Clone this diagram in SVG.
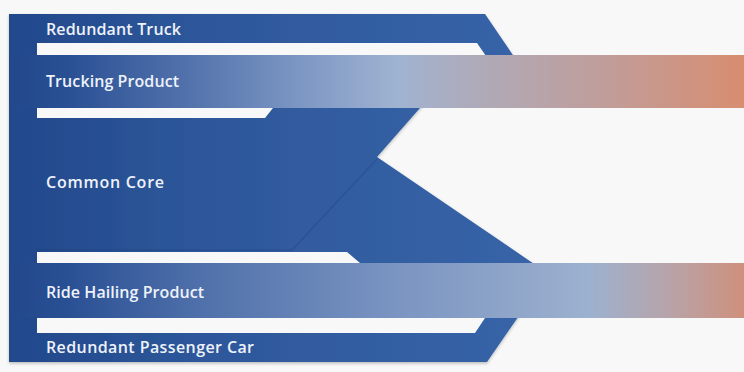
<svg xmlns="http://www.w3.org/2000/svg" width="744" height="372" viewBox="0 0 744 372">
  <defs>
    <linearGradient id="blue" gradientUnits="userSpaceOnUse" x1="9" y1="0" x2="540" y2="0">
      <stop offset="0" stop-color="#22488b"/>
      <stop offset="0.35" stop-color="#2d579a"/>
      <stop offset="1" stop-color="#3864a8"/>
    </linearGradient>
    <linearGradient id="truckGrad" gradientUnits="userSpaceOnUse" x1="9" y1="0" x2="744" y2="0">
      <stop offset="0" stop-color="#22478b"/>
      <stop offset="0.08" stop-color="#2a5094"/>
      <stop offset="0.24" stop-color="#5171ab"/>
      <stop offset="0.40" stop-color="#7e98c4"/>
      <stop offset="0.53" stop-color="#a0b3d1"/>
      <stop offset="0.64" stop-color="#afaab8"/>
      <stop offset="0.80" stop-color="#bf9e9c"/>
      <stop offset="1" stop-color="#d88d70"/>
    </linearGradient>
    <linearGradient id="rideGrad" gradientUnits="userSpaceOnUse" x1="9" y1="0" x2="744" y2="0">
      <stop offset="0" stop-color="#22478b"/>
      <stop offset="0.08" stop-color="#2a5094"/>
      <stop offset="0.26" stop-color="#4f70aa"/>
      <stop offset="0.52" stop-color="#7a94c1"/>
      <stop offset="0.79" stop-color="#9db1cf"/>
      <stop offset="0.90" stop-color="#b8a3a8"/>
      <stop offset="1" stop-color="#cf907c"/>
    </linearGradient>
    <filter id="shadow" x="-5%" y="-5%" width="110%" height="115%">
      <feDropShadow dx="0" dy="1.5" stdDeviation="1.5" flood-color="#000" flood-opacity="0.25"/>
    </filter>
  </defs>
  <style>
    .gap { fill: #f8f8f8; }
    .label { font-family: "Open Sans", "Liberation Sans", sans-serif; font-size: 16px; font-weight: 600; fill: #eef2fa; }
    .seam { fill: none; stroke: #1d3f7c; stroke-opacity: 0.3; stroke-width: 1.5; }
  </style>
  <rect x="0" y="0" width="744" height="372" fill="#f8f8f8"/>

  <g id="frame" filter="url(#shadow)">
    <polygon fill="url(#blue)" points="9,14 485,14 519,64 427,100 377,157 543,270 523,310 487,362 9,362"/>
  </g>

  <g id="gaps">
    <polygon class="gap" points="37,43 477,43 486,56 37,56"/>
    <polygon class="gap" points="37,108 273,108 265,118 37,118"/>
    <polygon class="gap" points="37,252 347,252 360,263 37,263"/>
    <polygon class="gap" points="37,318 485,318 475,333 37,333"/>
  </g>

  <g id="connectors">
    <path class="seam" d="M378,158 L292,250 L37,250"/>
  </g>

  <g id="redundant-truck">
    <text class="label" x="46" y="35" textLength="135">Redundant Truck</text>
  </g>

  <g id="trucking-product">
    <rect x="9" y="55" width="735" height="53" fill="url(#truckGrad)"/>
    <text class="label" x="46" y="87" textLength="133">Trucking Product</text>
  </g>

  <g id="common-core">
    <text class="label" x="46" y="188" textLength="118">Common Core</text>
  </g>

  <g id="ride-hailing-product">
    <rect x="9" y="263" width="735" height="55" fill="url(#rideGrad)"/>
    <text class="label" x="46" y="298" textLength="158">Ride Hailing Product</text>
  </g>

  <g id="redundant-passenger-car">
    <text class="label" x="46" y="353" textLength="208">Redundant Passenger Car</text>
  </g>
</svg>
